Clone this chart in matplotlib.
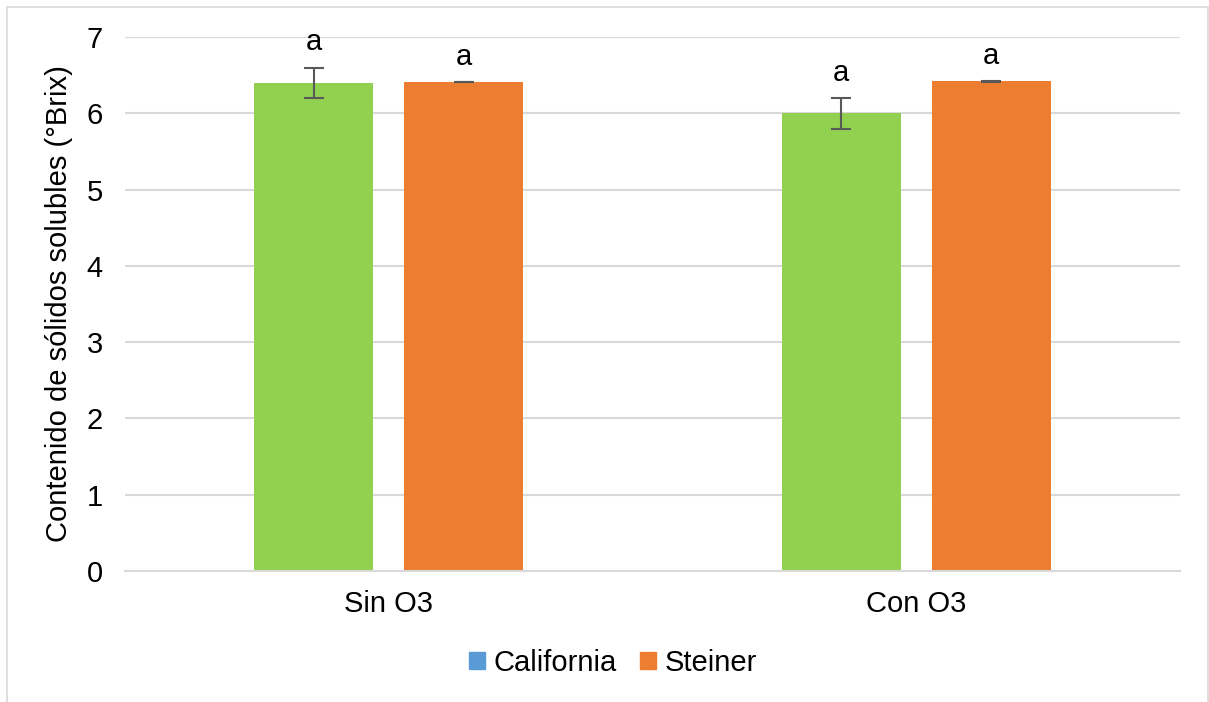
import matplotlib
matplotlib.use("Agg")
import matplotlib.pyplot as plt
from matplotlib.patches import Patch, Rectangle
import numpy as np

plt.rcParams['font.family'] = ['Liberation Sans', 'DejaVu Sans']

categories = ['Sin O3', 'Con O3']
series_names = ['California', 'Steiner']
california = [6.40, 6.00]
california_err = [0.20, 0.20]
steiner = [6.41, 6.42]
steiner_err = [0.005, 0.005]
letters_cal = ['a', 'a']
letters_ste = ['a', 'a']

bar_colors = ['#92D050', '#ED7D31']
legend_colors = ['#5B9BD5', '#ED7D31']

W, H = 1209, 702
FS = 21
fig = plt.figure(figsize=(W / 100, H / 100), dpi=100)
ax = fig.add_axes([125 / W, 1 - 571 / H, (1180 - 125) / W, (571 - 37) / H])

x = np.arange(len(categories))
width = 0.2256
off = (width + 0.0588) / 2

ax.bar(x - off, california, width, color=bar_colors[0], zorder=2)
ax.bar(x + off, steiner, width, color=bar_colors[1], zorder=2)
ax.errorbar(x - off, california, yerr=california_err, fmt='none', ecolor='#595959',
            elinewidth=1.5, capsize=7, capthick=1.5, zorder=3)
ax.errorbar(x + off, steiner, yerr=steiner_err, fmt='none', ecolor='#595959',
            elinewidth=1.5, capsize=7, capthick=1.5, zorder=3)

# significance letters above the error bars
for i in range(len(categories)):
    ax.annotate(letters_cal[i], (x[i] - off, california[i] + california_err[i]),
                xytext=(0, 8), textcoords='offset points', ha='center', va='bottom',
                fontsize=FS)
    ax.annotate(letters_ste[i], (x[i] + off, steiner[i] + steiner_err[i]),
                xytext=(0, 8), textcoords='offset points', ha='center', va='bottom',
                fontsize=FS)

ax.set_xlim(-0.5, 1.5)
ax.set_ylim(0, 7)
ax.set_yticks(range(0, 8))
ax.set_xticks(x)
ax.set_xticklabels(categories)
ax.tick_params(axis='both', length=0, labelsize=FS)
ax.tick_params(axis='x', pad=14)
ax.tick_params(axis='y', pad=16)
ax.grid(axis='y', color='#D9D9D9', linewidth=1.5, zorder=0)
ax.set_axisbelow(True)
for s in ['top', 'right', 'left']:
    ax.spines[s].set_visible(False)
ax.spines['bottom'].set_color('#D9D9D9')
ax.spines['bottom'].set_linewidth(1.5)

ax.set_ylabel('Contenido de sólidos solubles (°Brix)', fontsize=FS, labelpad=10)

handles = [Patch(color=c, label=n) for c, n in zip(legend_colors, series_names)]
fig.legend(handles=handles, loc='center', bbox_to_anchor=(613 / W, 1 - 663 / H), ncol=2,
           frameon=False, fontsize=FS, handlelength=0.55, handleheight=0.55,
           handletextpad=0.3, columnspacing=0.8)

# light chart border
fig.patches.append(Rectangle((7 / W, -0.01), 1201 / W, 1 - 7 / H + 0.01,
                             transform=fig.transFigure, fill=False,
                             edgecolor='#D9D9D9', linewidth=1.2))

fig.savefig('out.png', dpi=100)
